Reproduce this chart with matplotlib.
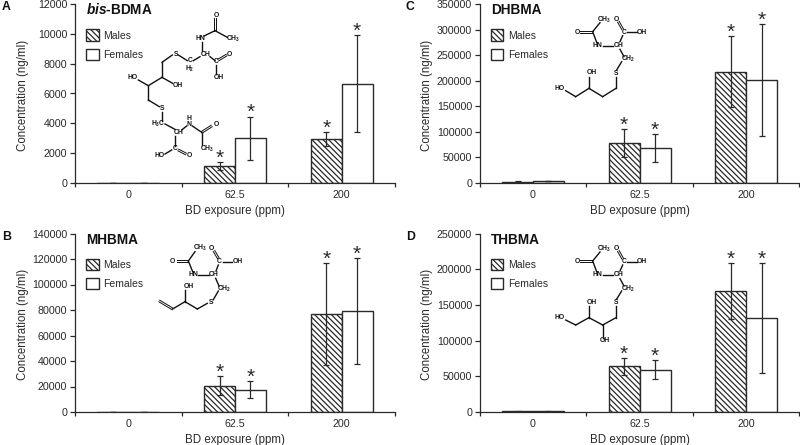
import matplotlib
matplotlib.use('Agg')
import matplotlib.pyplot as plt
import numpy as np
from matplotlib.patches import Patch

plt.rcParams['font.family'] = ['Liberation Sans', 'DejaVu Sans']
plt.rcParams['mathtext.fontset'] = 'custom'
plt.rcParams['mathtext.rm'] = 'Liberation Sans'
plt.rcParams['mathtext.bf'] = 'Liberation Sans:bold'
plt.rcParams['mathtext.bfit'] = 'Liberation Sans:italic:bold'
plt.rcParams['hatch.linewidth'] = 0.9

# Valeurs
doses = ['0', '62.5', '200']

a_m = [0, 1150, 2950]
a_f = [0, 3000, 6650]
a_m_lo = [0, 850, 2500]
a_m_hi = [0, 1400, 3400]
a_f_lo = [0, 1550, 3400]
a_f_hi = [0, 4450, 9900]

b_m = [300, 20500, 76500]
b_f = [300, 17500, 79000]
b_m_lo = [300, 13000, 36500]
b_m_hi = [300, 28000, 117000]
b_f_lo = [300, 11000, 37500]
b_f_hi = [300, 24000, 121000]

c_m = [2500, 78000, 218000]
c_f = [3500, 68000, 201000]
c_m_lo = [2000, 50000, 148000]
c_m_hi = [3000, 105000, 287000]
c_f_lo = [3000, 42000, 92000]
c_f_hi = [4000, 95000, 311000]

d_m = [800, 64000, 170000]
d_f = [800, 59000, 131000]
d_m_lo = [600, 52000, 130000]
d_m_hi = [1000, 76000, 208000]
d_f_lo = [600, 46000, 54000]
d_f_hi = [1000, 73000, 208000]

DARK = '#2a2a2a'
W, H = 800, 445
fig = plt.figure(figsize=(8, 4.45), dpi=100)


def panel(left, right, top, bottom, letter, letter_x, title, ymax, ystep,
          m, f, m_lo, m_hi, f_lo, f_hi):
    ax = fig.add_axes([left / W, 1 - bottom / H, (right - left) / W, (bottom - top) / H])
    x = np.arange(3) + 0.5
    w = 0.29
    ax.bar(x - w / 2, m, w, color='white', edgecolor=DARK, hatch='\\\\\\\\\\\\', linewidth=1)
    ax.bar(x + w / 2, f, w, color='white', edgecolor=DARK, linewidth=1)
    for xs, v, lo, hi in [(x - w / 2, m, m_lo, m_hi), (x + w / 2, f, f_lo, f_hi)]:
        v, lo, hi = np.array(v), np.array(lo), np.array(hi)
        ax.errorbar(xs, v, yerr=[v - lo, hi - v], fmt='none', ecolor=DARK, elinewidth=0.9,
                    capsize=2, capthick=0.9)
        # etoiles seulement pour les groupes exposes
        for i in (1, 2):
            ax.annotate('*', (xs[i], hi[i]), xytext=(0, -1.2), textcoords='offset points',
                        ha='center', va='baseline', fontsize=15, color=DARK)
    ax.set_xlim(0, 3)
    ax.set_ylim(0, ymax)
    ax.set_xticks([0, 1, 2, 3])
    ax.set_xticklabels([])
    ax.set_xticks(x, doses, minor=True)
    ax.tick_params(axis='x', which='minor', length=0, pad=5, labelsize=7.7, labelcolor=DARK)
    ax.tick_params(axis='x', which='major', length=3, width=0.9, color=DARK)
    ax.set_yticks(np.arange(0, ymax + 1, ystep))
    ax.tick_params(axis='y', length=3.5, width=0.9, color=DARK, pad=2, labelsize=7.7, labelcolor=DARK)
    for s in ['top', 'right']:
        ax.spines[s].set_visible(False)
    for s in ['left', 'bottom']:
        ax.spines[s].set_color(DARK)
        ax.spines[s].set_linewidth(0.9)
    ax.set_xlabel('BD exposure (ppm)', fontsize=8.3, color=DARK)
    ax.set_ylabel('Concentration (ng/ml)', fontsize=8.3, color=DARK)
    ax.xaxis.set_label_coords(0.5, -22 / (bottom - top))
    ax.yaxis.set_label_coords((letter_x + 27 - left) / (right - left), 0.49)
    ax.legend(handles=[Patch(facecolor='white', edgecolor=DARK, hatch='\\\\\\\\\\\\', label='Males'),
                       Patch(facecolor='white', edgecolor=DARK, label='Females')],
              frameon=False, fontsize=7.5, labelcolor=DARK, handlelength=1.2, handleheight=1.25,
              labelspacing=0.8, handletextpad=0.45, borderaxespad=0, borderpad=0,
              loc='upper left', bbox_to_anchor=(11 / (right - left), 1 - 25.5 / (bottom - top)))
    ax.text(11 / (right - left), 1 - 6 / (bottom - top), title, transform=ax.transAxes,
            fontsize=9.8, fontweight='bold', color='#111111', va='center', ha='left')
    fig.text(letter_x / W, 1 - (top + 3.5) / H, letter, fontsize=8.8, fontweight='bold',
             color='#111111', va='center', ha='left')
    return ax


panel(75, 395, 4, 183, 'A', 2, r'$\mathbfit{bis}$-BDMA', 12000, 2000,
      a_m, a_f, a_m_lo, a_m_hi, a_f_lo, a_f_hi)
panel(75, 395, 233.5, 412, 'B', 2, 'MHBMA', 140000, 20000,
      b_m, b_f, b_m_lo, b_m_hi, b_f_lo, b_f_hi)
panel(479.7, 799.5, 4, 183, 'C', 406, 'DHBMA', 350000, 50000,
      c_m, c_f, c_m_lo, c_m_hi, c_f_lo, c_f_hi)
panel(479.7, 799.5, 233.5, 412, 'D', 406, 'THBMA', 250000, 50000,
      d_m, d_f, d_m_lo, d_m_hi, d_f_lo, d_f_hi)

# Formules chimiques, dessinees dans un calque en pixels
over = fig.add_axes([0, 0, 1, 1], zorder=5)
over.set_xlim(0, W)
over.set_ylim(H, 0)
over.axis('off')


def mol(ox, oy, bonds, doubles, labels):
    for x0, y0, x1, y1 in bonds:
        over.plot([ox + x0 / 3, ox + x1 / 3], [oy + y0 / 3, oy + y1 / 3], color='#111111', lw=1.0)
    for x0, y0, x1, y1 in doubles:
        dx, dy = y1 - y0, x0 - x1
        n = np.hypot(dx, dy)
        dx, dy = dx / n * 0.9, dy / n * 0.9
        for s in (-1, 1):
            over.plot([ox + x0 / 3 + s * dx, ox + x1 / 3 + s * dx],
                      [oy + y0 / 3 + s * dy, oy + y1 / 3 + s * dy], color='#111111', lw=0.7)
    for x0, y0, t in labels:
        over.text(ox + x0 / 3, oy + y0 / 3, t, fontsize=4.9, fontweight='bold', color='#111111',
                  ha='center', va='center')


CH3 = r'CH$_{\mathbf{3}}$'
CH2 = r'CH$_{\mathbf{2}}$'
H3C = r'H$_{\mathbf{3}}$C'

mol(0, 0,
    [(645, 92, 612, 108), (645, 92, 682, 112), (605, 127, 605, 152), (600, 170, 580, 182),
     (562, 182, 535, 165), (517, 165, 486, 187), (486, 187, 486, 232), (486, 232, 445, 257),
     (486, 232, 518, 250), (445, 257, 415, 240), (445, 257, 445, 300), (445, 300, 478, 320),
     (486, 335, 486, 362), (495, 372, 525, 388), (545, 390, 560, 378), (577, 378, 605, 397),
     (605, 397, 605, 435), (525, 408, 525, 437), (515, 450, 495, 462), (630, 170, 645, 182),
     (648, 195, 648, 222)],
    [(645, 55, 645, 92), (605, 397, 635, 378), (535, 450, 558, 462), (655, 180, 680, 165)],
    [(648, 47, 'O'), (600, 117, 'HN'), (700, 118, CH3), (527, 163, 'S'), (618, 163, 'CH'),
     (688, 165, 'O'), (648, 185, 'C'), (570, 183, 'C'), (570, 207, r'H$_{\mathbf{2}}$'),
     (655, 232, 'OH'), (398, 232, 'HO'), (533, 257, 'OH'), (486, 325, 'S'), (567, 355, 'H'),
     (567, 375, 'N'), (648, 373, 'O'), (475, 373, H3C), (535, 397, 'CH'), (525, 447, 'C'),
     (567, 467, 'O'), (478, 467, 'HO'), (620, 447, CH3)])

mol(400, 0,
    [(578, 95, 600, 68), (578, 95, 590, 127), (608, 137, 640, 137), (660, 125, 668, 107),
     (682, 97, 712, 97), (660, 148, 672, 170), (665, 185, 650, 210), (648, 230, 648, 265),
     (648, 265, 608, 290), (608, 290, 567, 265), (567, 265, 567, 230), (567, 265, 527, 290),
     (527, 290, 497, 272)],
    [(540, 95, 578, 95), (668, 88, 655, 65)],
    [(613, 60, CH3), (648, 58, 'O'), (533, 97, 'O'), (672, 97, 'C'), (725, 97, 'OH'),
     (593, 137, 'HN'), (655, 137, 'CH'), (685, 178, CH2), (575, 218, 'OH'), (648, 220, 'S'),
     (480, 265, 'HO')])

mol(400, 225,
    [(578, 108, 600, 81), (578, 108, 590, 140), (608, 150, 640, 150), (660, 138, 668, 120),
     (682, 110, 712, 110), (660, 161, 672, 183), (665, 198, 650, 222), (648, 242, 648, 278),
     (648, 278, 608, 300), (608, 300, 567, 278), (567, 278, 567, 243), (567, 278, 527, 300),
     (527, 300, 497, 285), (608, 300, 608, 338)],
    [(540, 108, 578, 108), (668, 101, 655, 78)],
    [(613, 72, CH3), (648, 70, 'O'), (533, 110, 'O'), (672, 110, 'C'), (725, 110, 'OH'),
     (593, 150, 'HN'), (655, 150, 'CH'), (685, 192, CH2), (575, 232, 'OH'), (648, 232, 'S'),
     (480, 278, 'HO'), (615, 348, 'OH')])

mol(0, 225,
    [(565, 108, 585, 80), (565, 108, 578, 140), (595, 150, 627, 150), (648, 138, 655, 120),
     (668, 110, 697, 110), (647, 160, 657, 183), (655, 198, 640, 224), (622, 235, 592, 252),
     (592, 252, 555, 230), (555, 230, 555, 195), (555, 230, 518, 252)],
    [(530, 108, 565, 108), (655, 100, 642, 78), (518, 252, 478, 228)],
    [(600, 70, CH3), (635, 70, 'O'), (518, 110, 'O'), (658, 110, 'C'), (712, 110, 'OH'),
     (580, 150, 'HN'), (642, 150, 'CH'), (673, 192, CH2), (565, 183, 'OH'), (633, 232, 'S')])

fig.savefig('out.png', dpi=100)
